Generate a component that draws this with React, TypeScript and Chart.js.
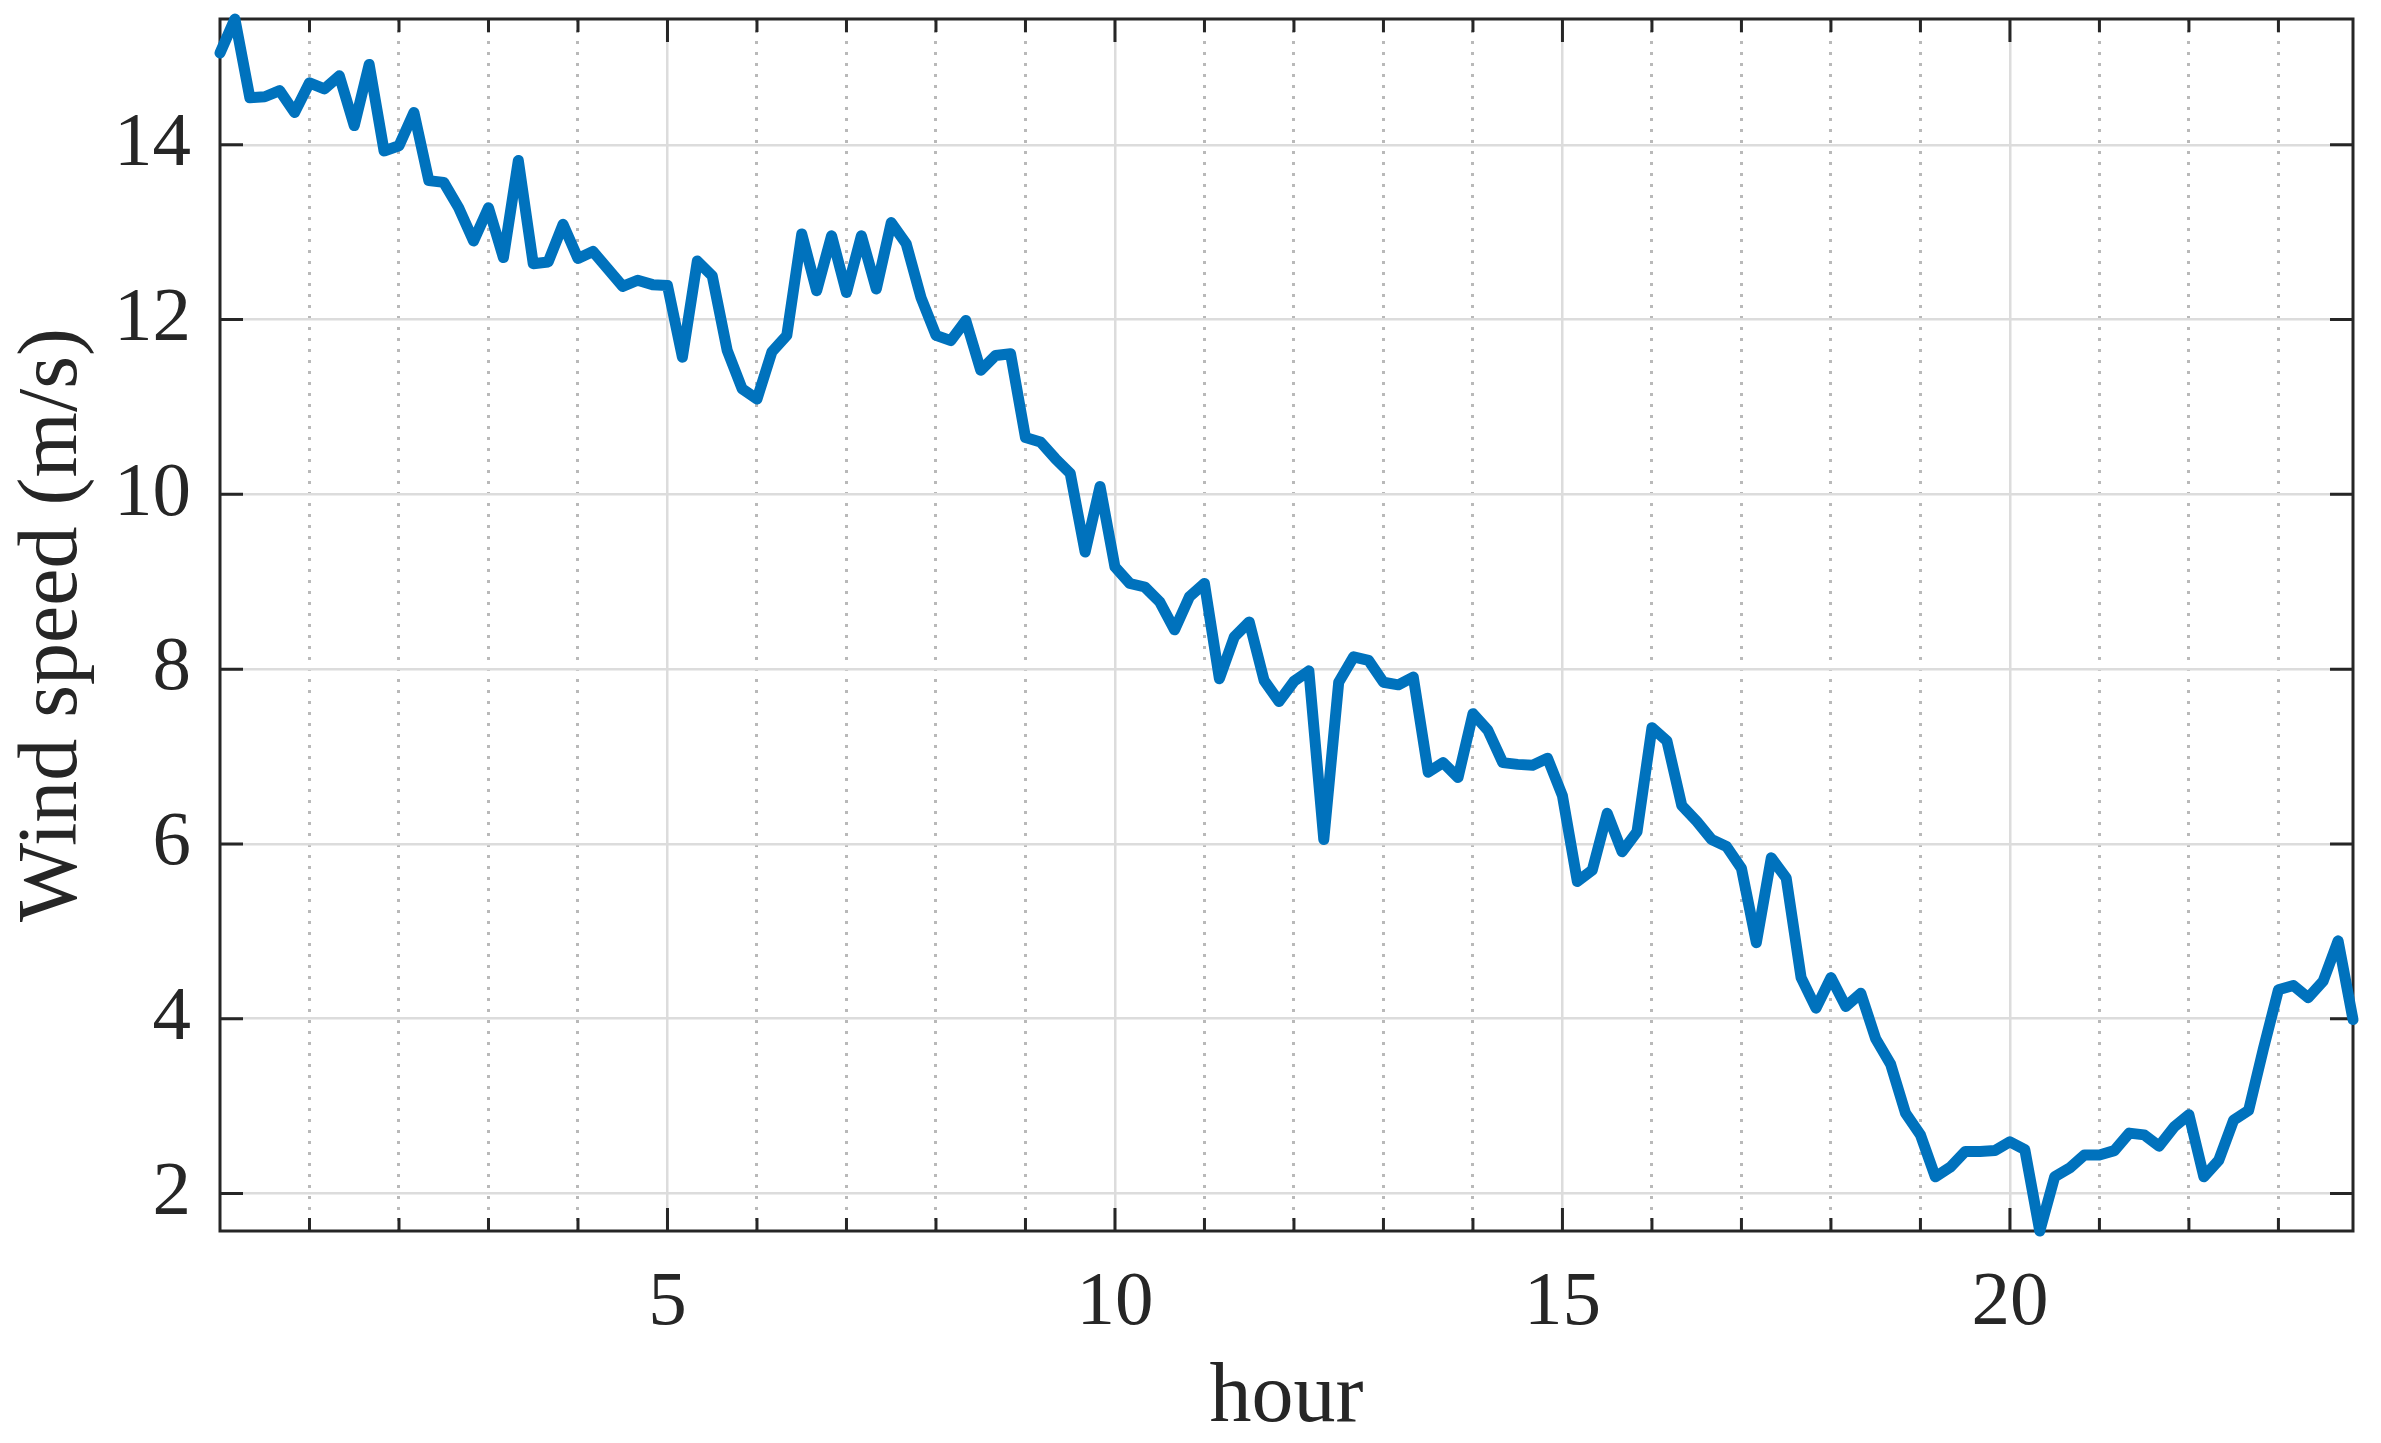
import React, { useEffect, useRef } from 'react';
import { Chart, registerables } from 'chart.js';

Chart.register(...registerables);

// Wind speed (m/s), one reading every 10 minutes over the day
const windSpeed: number[] = [
  15.05, 15.44, 14.54, 14.55, 14.62, 14.37, 14.71, 14.64, 14.79, 14.22, 14.92, 13.93,
  13.99, 14.37, 13.59, 13.57, 13.28, 12.9, 13.28, 12.71, 13.82, 12.64, 12.66, 13.09,
  12.7, 12.78, 12.58, 12.38, 12.45, 12.4, 12.39, 11.57, 12.67, 12.5, 11.65, 11.21,
  11.09, 11.63, 11.82, 12.98, 12.33, 12.96, 12.31, 12.96, 12.35, 13.11, 12.87, 12.25,
  11.82, 11.76, 11.99, 11.42, 11.59, 11.61, 10.65, 10.6, 10.41, 10.24, 9.34, 10.09,
  9.17, 8.98, 8.94, 8.77, 8.45, 8.83, 8.98, 7.89, 8.37, 8.54, 7.87, 7.63,
  7.86, 7.98, 6.05, 7.85, 8.14, 8.1, 7.85, 7.82, 7.91, 6.82, 6.93, 6.76,
  7.49, 7.3, 6.93, 6.91, 6.9, 6.98, 6.55, 5.57, 5.7, 6.35, 5.91, 6.14,
  7.33, 7.18, 6.44, 6.26, 6.05, 5.97, 5.72, 4.87, 5.84, 5.61, 4.47, 4.12,
  4.47, 4.14, 4.29, 3.77, 3.48, 2.92, 2.67, 2.19, 2.3, 2.48, 2.48, 2.49,
  2.59, 2.5, 1.57, 2.19, 2.29, 2.44, 2.44, 2.49, 2.69, 2.67, 2.54, 2.76,
  2.9, 2.19, 2.38, 2.84, 2.95, 3.66, 4.33, 4.38, 4.24, 4.43, 4.89, 3.99,
];

const SAMPLE_INTERVAL_HOURS = 1 / 6;
const hours: number[] = windSpeed.map((_, i) => i * SAMPLE_INTERVAL_HOURS);

const xMajorTicks: number[] = [5, 10, 15, 20];
const xHourTicks: number[] = [
  1, 2, 3, 4, 5, 6, 7, 8, 9, 10, 11, 12, 13, 14, 15, 16, 17, 18, 19, 20, 21, 22, 23,
];
const yTicks: number[] = [2, 4, 6, 8, 10, 12, 14];

const xTitle = 'hour';
const yTitle = 'Wind speed (m/s)';

const W = 2381;
const H = 1443;
const AXIS_COLOR = '#262626';
const LINE_COLOR = '#0072BD';
const MAJOR_GRID = '#dcdcdc';
const MINOR_GRID = '#b9b9b9';
const FONT = "'Liberation Serif', 'Times New Roman', serif";

const matlabAxesPlugin = {
  id: 'matlabAxes',
  beforeDatasetsDraw(chart: any) {
    const { ctx, chartArea: a, scales } = chart;
    const xs = scales.x;
    const ys = scales.y;
    ctx.save();
    ctx.strokeStyle = AXIS_COLOR;
    ctx.lineWidth = 3;
    ctx.lineCap = 'butt';
    ctx.beginPath();
    xs.ticks.forEach((t: any) => {
      const px = xs.getPixelForValue(t.value);
      const len = xMajorTicks.includes(t.value) ? 23 : 13;
      ctx.moveTo(px, a.bottom);
      ctx.lineTo(px, a.bottom - len);
      ctx.moveTo(px, a.top);
      ctx.lineTo(px, a.top + len);
    });
    ys.ticks.forEach((t: any) => {
      const py = ys.getPixelForValue(t.value);
      ctx.moveTo(a.left, py);
      ctx.lineTo(a.left + 23, py);
      ctx.moveTo(a.right, py);
      ctx.lineTo(a.right - 23, py);
    });
    ctx.stroke();
    ctx.strokeRect(a.left, a.top, a.right - a.left, a.bottom - a.top);
    ctx.restore();
  },
};

export default function App() {
  const canvasRef = useRef<HTMLCanvasElement | null>(null);

  useEffect(() => {
    const canvas = canvasRef.current;
    if (!canvas) return;
    const points = hours.map((h, i) => ({ x: h, y: windSpeed[i] }));
    const isMajorX = (ctx: any) => !!ctx.tick && xMajorTicks.includes(ctx.tick.value);

    const chart = new Chart(canvas, {
      type: 'line',
      data: {
        datasets: [
          {
            label: yTitle,
            data: points,
            borderColor: LINE_COLOR,
            backgroundColor: LINE_COLOR,
            borderWidth: 11,
            pointRadius: 0,
            pointHoverRadius: 0,
            tension: 0,
            borderJoinStyle: 'round',
            borderCapStyle: 'round',
            clip: false as any,
          },
        ],
      },
      options: {
        animation: false,
        responsive: false,
        devicePixelRatio: 1,
        events: [],
        layout: { padding: { left: 0, top: 19, right: 28, bottom: 0 } },
        plugins: {
          legend: { display: false },
          tooltip: { enabled: false },
        },
        scales: {
          x: {
            type: 'linear',
            position: 'bottom',
            min: hours[0],
            max: hours[hours.length - 1],
            afterBuildTicks: (scale: any) => {
              scale.ticks = xHourTicks.map((v) => ({ value: v }));
            },
            afterFit: (scale: any) => {
              scale.height = 212;
              scale.paddingLeft = 0;
              scale.paddingRight = 0;
            },
            ticks: {
              autoSkip: false,
              maxRotation: 0,
              minRotation: 0,
              padding: 27,
              color: AXIS_COLOR,
              font: { family: FONT, size: 77, lineHeight: 1.2 },
              callback: (value: any) => (xMajorTicks.includes(Number(value)) ? String(value) : ''),
            },
            grid: {
              drawTicks: false,
              color: (ctx: any) => (isMajorX(ctx) ? MAJOR_GRID : MINOR_GRID),
              lineWidth: (ctx: any) => (isMajorX(ctx) ? 2.5 : 3),
            },
            border: {
              display: false,
              dash: (ctx: any) => (ctx.tick && !xMajorTicks.includes(ctx.tick.value) ? [3, 8] : []),
            } as any,
            title: {
              display: true,
              text: xTitle,
              color: AXIS_COLOR,
              font: { family: FONT, size: 84, lineHeight: 1 },
              padding: { top: 0, bottom: 2 },
            },
          },
          y: {
            type: 'linear',
            position: 'left',
            min: Math.min(...windSpeed),
            max: Math.max(...windSpeed),
            afterBuildTicks: (scale: any) => {
              scale.ticks = yTicks.map((v) => ({ value: v }));
            },
            afterFit: (scale: any) => {
              scale.width = 220;
              scale.paddingTop = 0;
              scale.paddingBottom = 0;
            },
            ticks: {
              padding: 29,
              color: AXIS_COLOR,
              font: { family: FONT, size: 77, lineHeight: 1.2 },
              callback: (value: any) => String(value),
            },
            grid: {
              drawTicks: false,
              color: MAJOR_GRID,
              lineWidth: 2.5,
            },
            border: { display: false },
            title: {
              display: true,
              text: yTitle,
              color: AXIS_COLOR,
              font: { family: FONT, size: 84, lineHeight: 1 },
              padding: { top: 12, bottom: 0 },
            },
          },
        },
      },
      plugins: [matlabAxesPlugin],
    });

    return () => {
      chart.destroy();
    };
  }, []);

  return (
    <div style={{ position: 'fixed', left: 0, top: 0, width: W, height: H, background: '#ffffff' }}>
      <canvas ref={canvasRef} width={W} height={H} style={{ width: W, height: H, display: 'block' }} />
    </div>
  );
}
